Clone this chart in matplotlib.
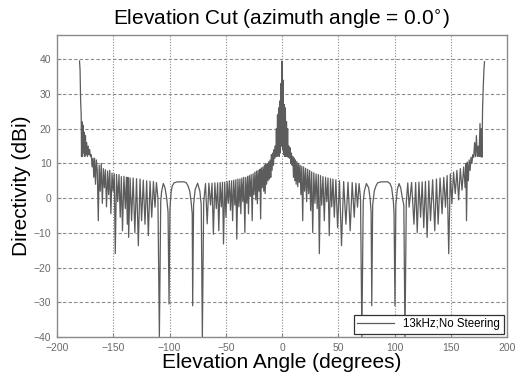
import matplotlib
matplotlib.use("Agg")
import matplotlib.pyplot as plt

plt.rcParams['font.family'] = ['Liberation Sans', 'DejaVu Sans']

# ---- data (elevation deg, directivity dBi) ----
tail_left_ang = [-180.0, -179.5, -179.0, -178.5, -178.2, -177.8, -177.3, -176.8, -176.3, -175.8,
                 -175.3, -174.7, -174.2, -173.6, -173.0, -172.3, -171.7, -171.0, -170.3, -169.5,
                 -168.8, -168.0, -167.3, -166.6, -165.8, -165.0]
tail_left_val = [39.5, 37.0, 28.0, 24.0, 12.0, 22.0, 12.0, 21.0, 13.0, 19.0,
                 12.0, 18.0, 12.5, 16.0, 12.0, 15.0, 12.5, 14.0, 12.0, 12.5,
                 9.0, 11.5, 6.0, 11.5, 4.0, 11.0]

side_left_ang = [-164.2, -163.3, -162.5, -161.6, -160.7, -159.7, -158.8, -157.9, -157.0, -156.0,
                 -155.0, -154.1, -153.1, -152.1, -151.1, -150.1, -149.1, -148.2, -147.1, -146.0,
                 -144.9, -143.8, -142.8, -141.8, -140.5, -139.3, -138.3, -137.5, -137.0, -136.3,
                 -135.0, -133.7, -132.3, -130.8, -129.3, -127.7, -126.2, -124.8, -123.3, -121.8,
                 -120.3, -118.8, -117.3, -115.8, -114.3, -112.9, -111.6]
side_left_val = [8.0, -6.5, 9.5, 2.0, 10.0, -1.5, 8.5, 3.0, 8.2, -2.5,
                 7.8, 1.0, 8.0, -4.5, 7.2, 2.0, 7.0, -16.0, 6.8, -1.0,
                 6.8, -5.5, 6.2, -9.4, 6.3, -3.0, 6.0, -7.5, 6.0, -11.3,
                 5.8, -6.5, 5.8, -9.9, 5.6, -13.7, 5.5, -6.5, 5.2, -7.5,
                 5.0, -10.8, 4.9, -5.5, 4.8, -2.6, 4.5]

wide_left_ang = [-110.3, -109.0, -107.8, -107.0, -105.5, -104.0, -102.5, -101.3, -100.4, -99.6,
                 -98.5, -97.5, -96.0, -93.0, -90.0, -87.0, -85.0, -83.5, -82.0, -80.8,
                 -79.8, -79.4, -78.6, -77.2, -75.0, -73.0, -71.8, -70.8, -69.6]
wide_left_val = [0.0, -40.0, -1.0, 2.0, 4.2, 3.0, 0.0, -4.0, -30.5, -3.0,
                 2.0, 3.5, 4.4, 4.7, 4.7, 4.7, 4.4, 3.5, 2.0, -1.0,
                 -4.5, -31.0, -2.0, 2.5, 4.3, 2.0, -2.0, -40.0, -1.0]

main_left_ang = [-68.0, -66.5, -65.0, -63.5, -62.2, -61.0, -59.7, -58.4, -57.2, -56.2,
                 -55.0, -53.9, -52.9, -52.0, -50.9, -49.8, -48.8, -47.8, -46.8, -45.8,
                 -44.8, -43.9, -42.9, -41.9, -41.0, -40.2, -39.2, -38.3, -37.4, -36.6,
                 -35.7, -34.8, -34.0, -33.0, -32.2, -31.3, -30.5, -29.8, -29.0, -28.2,
                 -27.4, -26.5, -25.7, -24.9, -24.1, -23.3, -22.6, -21.9, -21.2, -20.4,
                 -19.7, -19.0, -18.3, -17.6, -16.9, -16.2, -15.6, -15.0, -14.3, -13.7,
                 -13.0, -12.4, -11.8, -11.2, -10.6, -10.0, -9.4, -8.8, -8.2, -7.6,
                 -7.0, -6.5, -6.0, -5.5, -5.0, -4.5, -4.0, -3.5, -3.0, -2.5,
                 -2.0, -1.5, -1.0, -0.5, 0.0]
main_left_val = [4.2, -7.4, 4.3, -2.0, 4.3, -10.4, 4.4, -3.0, 4.4, -9.4,
                 4.5, -2.5, 4.6, -13.2, 4.6, -5.5, 4.8, -1.5, 5.0, -3.5,
                 5.0, -6.5, 5.2, -2.0, 5.3, -11.8, 5.5, -2.5, 5.5, -4.5,
                 5.8, -1.0, 6.0, -9.9, 6.0, -1.5, 6.3, -4.5, 6.5, 0.5,
                 6.8, -6.5, 7.0, 1.0, 7.5, -0.5, 7.8, -1.6, 8.0, 2.0,
                 8.3, -6.0, 8.7, 3.0, 9.0, 2.0, 9.5, 1.3, 9.8, 4.0,
                 10.0, 5.0, 10.5, 5.5, 11.0, 6.0, 12.5, 8.0, 13.0, 9.5,
                 14.0, 11.5, 15.0, 12.0, 20.0, 12.0, 24.0, 12.5, 26.0, 12.0,
                 28.0, 13.0, 33.0, 15.0, 39.5]

main_right_ang = [0.5, 1.0, 1.5, 2.0, 2.5, 3.0, 3.5, 4.0, 4.5, 5.0,
                  5.5, 6.0, 6.6, 7.2, 7.8, 8.4, 9.0, 9.6, 10.2, 10.8,
                  11.4, 12.0, 12.6, 13.3, 14.0, 14.7, 15.4, 16.1, 16.8, 17.6,
                  18.4, 19.2, 20.1, 21.0, 21.9, 22.8, 23.7, 24.6, 25.5, 26.4,
                  27.3, 28.3, 29.3, 30.3, 31.3, 32.3, 33.2, 34.2, 35.3, 36.4,
                  37.6, 38.7, 39.8, 40.9, 42.0, 43.1, 44.2, 45.3, 46.5, 47.9,
                  49.4, 51.1, 52.9, 54.8, 56.8, 58.7, 60.6, 62.4, 64.2, 65.7,
                  67.1, 68.5]
main_right_val = [14.0, 34.0, 12.5, 27.0, 12.0, 26.0, 12.0, 22.0, 12.0, 20.0,
                  11.8, 15.0, 11.5, 14.5, 10.0, 13.0, 9.5, 12.0, 6.0, 11.5,
                  5.0, 11.0, 4.0, 10.5, 3.3, 10.0, 4.5, 9.5, 1.0, 9.2,
                  -6.5, 9.0, 2.0, 8.6, -1.0, 8.3, 1.3, 8.0, -3.6, 7.6,
                  -9.9, 7.3, -1.5, 7.0, -3.0, 6.8, -16.0, 6.5, -2.0, 6.2,
                  -6.5, 6.0, -1.0, 5.8, -10.8, 5.6, -2.5, 5.5, -5.5, 5.3,
                  -8.5, 5.0, -13.7, 4.8, -7.5, 4.6, -9.4, 4.5, -5.5, 4.3,
                  -2.6, 4.2]

wide_right_ang = [69.8, 71.0, 72.2, 73.2, 75.0, 77.0, 78.3, 79.2, 79.8, 80.6,
                  82.0, 83.5, 85.0, 88.0, 91.0, 94.0, 96.0, 97.5, 99.0, 99.6,
                  100.4, 101.2, 102.5, 104.0, 105.5, 107.0, 108.3, 109.3, 110.5]
wide_right_val = [0.0, -40.0, -1.0, 2.0, 4.2, 3.0, 0.0, -4.0, -31.0, -2.0,
                  2.0, 3.5, 4.4, 4.7, 4.7, 4.7, 4.2, 3.0, -1.0, -4.5,
                  -31.0, -2.0, 2.5, 4.2, 3.0, 0.0, -2.0, -40.0, -1.0]

side_right_ang = [111.8, 113.0, 115.2, 117.3, 118.8, 120.2, 121.7, 123.2, 124.6, 126.0,
                  127.5, 129.0, 130.5, 132.0, 133.9, 135.8, 137.3, 138.8, 140.5, 142.3,
                  143.8, 145.3, 146.8, 148.2, 149.6, 151.0, 152.5, 154.0, 155.5, 157.0,
                  158.5, 160.0, 161.5, 162.8, 163.5, 164.0, 164.8, 165.6]
side_right_val = [4.4, -2.6, 4.5, -7.5, 4.5, -9.9, 4.6, -5.5, 4.7, -8.5,
                  4.8, -11.3, 5.0, -6.5, 5.3, -9.4, 5.5, -7.5, 5.8, -4.5,
                  6.0, -2.6, 6.5, -16.0, 7.0, -1.6, 7.5, 1.3, 8.0, -0.5,
                  8.5, 2.3, 9.0, 3.0, 10.0, -6.5, 10.4, 5.0]

tail_right_ang = [166.4, 167.2, 168.0, 168.8, 169.6, 170.4, 171.2, 172.0, 172.8, 173.6,
                  174.4, 175.2, 176.0, 176.6, 177.2, 177.7, 178.3, 179.0, 179.5, 180.0]
tail_right_val = [11.0, 8.0, 11.8, 10.0, 12.5, 11.8, 16.0, 12.0, 18.0, 12.0,
                  15.0, 12.0, 21.5, 12.0, 20.0, 11.8, 26.0, 33.0, 37.0, 39.3]

elevation = (tail_left_ang + side_left_ang + wide_left_ang + main_left_ang +
             main_right_ang + wide_right_ang + side_right_ang + tail_right_ang)
directivity = (tail_left_val + side_left_val + wide_left_val + main_left_val +
               main_right_val + wide_right_val + side_right_val + tail_right_val)

x_ticks = [-200, -150, -100, -50, 0, 50, 100, 150, 200]
y_ticks = [-40, -30, -20, -10, 0, 10, 20, 30, 40]
series_label = "13kHz;No Steering"

# ---- figure ----
fig = plt.figure(figsize=(5.15, 3.78), dpi=100)
ax = fig.add_axes([57/515, 1 - 337/378, 450/515, 302/378])

ax.plot(elevation, directivity, color='#5c5c5c', linewidth=0.9, label=series_label)

ax.set_xlim(-200, 200)
ax.set_ylim(-40, 47)
ax.set_xticks(x_ticks)
ax.set_yticks(y_ticks)

for v in x_ticks[1:-1]:
    ax.axvline(v, color='#8a8a8a', linewidth=0.8, linestyle=(0, (1, 1.5)), zorder=0)
for v in y_ticks:
    ax.axhline(v, color='#8a8a8a', linewidth=0.8, linestyle=(0, (3, 2)), zorder=0)

for s in ax.spines.values():
    s.set_color('#8a8a8a')
    s.set_linewidth(1.0)
ax.tick_params(direction='in', length=3, colors='#8a8a8a', labelcolor='#6a6a6a',
               labelsize=7.5)
ax.tick_params(axis='x', pad=4)
ax.tick_params(axis='y', pad=4)

ax.set_title("Elevation Cut (azimuth angle = 0.0$^{\\circ}$)", fontsize=15, pad=7)
ax.set_xlabel("Elevation Angle (degrees)", fontsize=15, labelpad=0)
ax.set_ylabel("Directivity (dBi)", fontsize=15, labelpad=2)

leg = ax.legend(loc='lower right', fontsize=8.3, frameon=True, fancybox=False,
                borderaxespad=0.3, handlelength=3.2, borderpad=0.3)
leg.get_frame().set_edgecolor('#333333')
leg.get_frame().set_linewidth(0.9)
leg.get_frame().set_alpha(1.0)

fig.savefig("out.png", dpi=100)
